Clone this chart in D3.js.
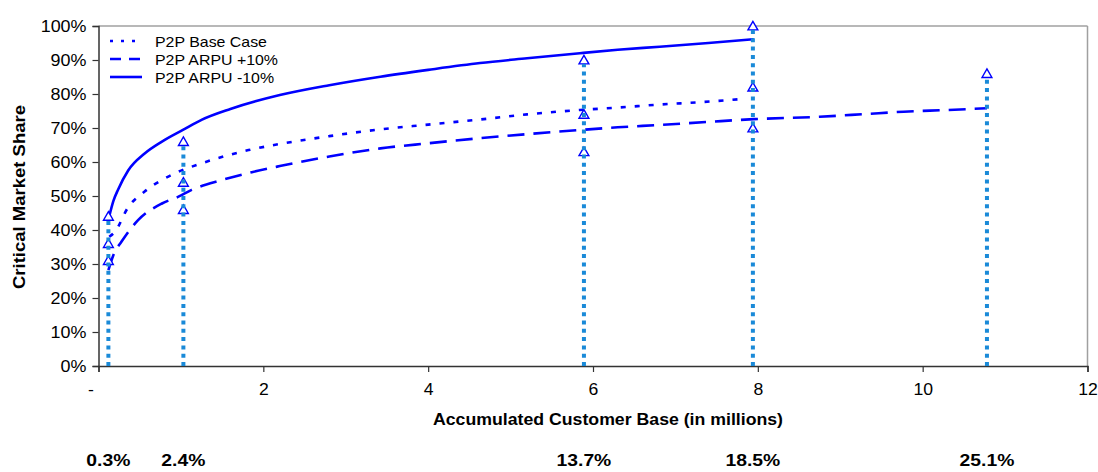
<!DOCTYPE html>
<html>
<head>
<meta charset="utf-8">
<script src="https://cdnjs.cloudflare.com/ajax/libs/d3/7.8.5/d3.min.js"></script>
<style>
  html, body { margin: 0; padding: 0; background: #fff; }
  svg { display: block; font-family: "Liberation Sans", Arial, sans-serif; }
</style>
</head>
<body>
<svg id="chart" width="1098" height="472"></svg>
<script>
// ---- Data ----
const seriesNames = ["P2P Base Case", "P2P ARPU +10%", "P2P ARPU -10%"];

// [customers (millions), critical market share (%)]
const baseCase = [[0.13,38],[0.2,39.5],[0.36,46.7],[0.56,51.3],[0.93,56.7],[1.25,59.6],[1.82,63.5],[2.2,65.3],[2.8,67.6],[3.42,69.6],[4.0,71.0],[4.63,72.5],[5.2,74.0],[5.84,75.3],[6.3,76.0],[6.81,76.9],[7.3,77.6],[7.79,78.5]];
const arpuPlus = [[0.12,28.2],[0.18,32.6],[0.28,36.6],[0.48,42.9],[0.77,47.8],[0.97,49.8],[1.13,51.8],[1.5,54.7],[1.86,57],[2.2,58.8],[2.8,61.6],[3.42,64],[4.0,65.5],[4.63,67],[5.2,68.2],[5.84,69.4],[6.3,70.2],[6.81,70.9],[7.4,71.8],[7.95,72.6],[8.75,73.3],[9.3,74.1],[9.77,74.8],[10.3,75.3],[10.78,75.8]];
const arpuMinus = [[0.13,44],[0.18,48.5],[0.24,52],[0.36,57.5],[0.56,62.5],[0.77,66],[1.03,69.5],[1.25,72.4],[1.6,75.6],[2.2,79.7],[2.8,82.6],[3.42,85.1],[4.0,87.1],[4.63,89.1],[5.2,90.5],[5.84,92.0],[6.3,93.0],[6.81,93.9],[7.4,95.0],[7.95,96.1]];

// vertical reference lines: x position, top marker, bottom label
const refX = [0.12, 1.03, 5.89, 7.94, 10.78];
const refLabels = ["0.3%", "2.4%", "13.7%", "18.5%", "25.1%"];
// triangle markers on each reference line (values in %)
const refMarkers = [[44, 36, 31], [66, 54, 46], [90, 74, 63], [100, 82, 70], [86]];

const xTicks = [0, 2, 4, 6, 8, 10, 12];
const yTicks = [0, 10, 20, 30, 40, 50, 60, 70, 80, 90, 100];

// ---- Layout ----
const svg = d3.select("#chart");
const mLeft = 98.5, mRight = 1087.5, mTop = 26, mBottom = 366;
const x = d3.scaleLinear().domain([0, 12]).range([mLeft, mRight]);
const y = d3.scaleLinear().domain([0, 100]).range([mBottom, mTop]);

const lineBlue = "#0000FF";
const refBlue = "#1A8AD8";

// horizontally stretch text (reference font renders wider)
function stretch(sel, k) {
  sel.each(function () {
    const w = this.getComputedTextLength();
    d3.select(this).attr("textLength", w * k).attr("lengthAdjust", "spacingAndGlyphs");
  });
}

// plot frame (top and right)
svg.append("line").attr("x1", mLeft).attr("x2", mRight).attr("y1", mTop).attr("y2", mTop)
  .attr("stroke", "#A0A0A0").attr("stroke-width", 1.5);
svg.append("line").attr("x1", mRight).attr("x2", mRight).attr("y1", mTop).attr("y2", mBottom)
  .attr("stroke", "#A0A0A0").attr("stroke-width", 1.5);

// axes
const yAxis = d3.axisLeft(y).tickValues(yTicks).tickSize(6).tickPadding(6)
  .tickFormat(d => d + "%");
const gy = svg.append("g").attr("transform", `translate(${mLeft},0)`).call(yAxis);
gy.select(".domain").attr("stroke", "#333").attr("stroke-width", 1.5);
gy.selectAll(".tick line").attr("stroke", "#333").attr("stroke-width", 1.2);
gy.selectAll(".tick text").attr("font-size", 16).attr("fill", "#000")
  .attr("font-family", "Liberation Sans, Arial, sans-serif");
stretch(gy.selectAll(".tick text"), 1.12);

const xAxis = d3.axisBottom(x).tickValues(xTicks).tickSize(6).tickPadding(12)
  .tickFormat(d => d === 0 ? "-" : String(d));
const gx = svg.append("g").attr("transform", `translate(0,${mBottom})`).call(xAxis);
gx.select(".domain").attr("stroke", "#333").attr("stroke-width", 1.5);
gx.selectAll(".tick line").attr("stroke", "#333").attr("stroke-width", 1.2);
gx.selectAll(".tick text").attr("font-size", 16).attr("fill", "#000")
  .attr("font-family", "Liberation Sans, Arial, sans-serif");
gx.selectAll(".tick text").filter(d => d === 0).attr("dx", -8);
stretch(gx.selectAll(".tick text"), 1.1);

// axis titles
const xt = svg.append("text").attr("x", 608).attr("y", 425).attr("text-anchor", "middle")
  .attr("font-size", 16.5).attr("font-weight", "bold").text("Accumulated Customer Base (in millions)");
xt.attr("textLength", 350).attr("lengthAdjust", "spacingAndGlyphs");
const yt = svg.append("text").attr("transform", "translate(25,197) rotate(-90)").attr("text-anchor", "middle")
  .attr("font-size", 16.5).attr("font-weight", "bold").text("Critical Market Share");
yt.attr("textLength", 184).attr("lengthAdjust", "spacingAndGlyphs");

// bottom percentage labels
const pct = svg.selectAll("text.pct").data(refX).enter().append("text").attr("class", "pct")
  .attr("x", d => x(d)).attr("y", 466).attr("text-anchor", "middle")
  .attr("font-size", 16.5).attr("font-weight", "bold")
  .text((d, i) => refLabels[i]);
stretch(pct, 1.17);

// series curves
const line = d3.line().x(d => x(d[0])).y(d => y(d[1])).curve(d3.curveMonotoneX);
const seriesData = [baseCase, arpuPlus, arpuMinus];
const dashes = ["5,9", "17,9", null];
seriesData.forEach((s, i) => {
  const p = svg.append("path").datum(s).attr("d", line)
    .attr("fill", "none").attr("stroke", lineBlue).attr("stroke-width", 2.6);
  if (dashes[i]) p.attr("stroke-dasharray", dashes[i]);
});

// triangle markers
const tri = d3.symbol().type(d3.symbolTriangle).size(42);
refX.forEach((rx, i) => {
  refMarkers[i].forEach(m => {
    svg.append("path").attr("d", tri)
      .attr("transform", `translate(${x(rx)},${y(m) + 1})`)
      .attr("fill", "#fff").attr("stroke", lineBlue).attr("stroke-width", 1.4);
  });
});

// vertical reference lines (dotted, light blue)
refX.forEach((rx, i) => {
  const topVal = d3.max(refMarkers[i]);
  svg.append("line")
    .attr("x1", x(rx)).attr("x2", x(rx))
    .attr("y1", y(0)).attr("y2", y(topVal) + 4)
    .attr("stroke", refBlue).attr("stroke-width", 4)
    .attr("stroke-dasharray", "4,4.3");
});

// legend
const legendY = [41, 59, 77];
seriesNames.forEach((name, i) => {
  const l = svg.append("line").attr("x1", 110).attr("x2", 142)
    .attr("y1", legendY[i]).attr("y2", legendY[i])
    .attr("stroke", lineBlue).attr("stroke-width", 2.6);
  if (i === 0) l.attr("stroke-dasharray", "3,8");
  if (i === 1) l.attr("stroke-dasharray", "11,8");
  const t = svg.append("text").attr("x", 155).attr("y", legendY[i] + 5.5)
    .attr("font-size", 15).text(name);
  stretch(t, 1.06);
});
</script>
</body>
</html>
